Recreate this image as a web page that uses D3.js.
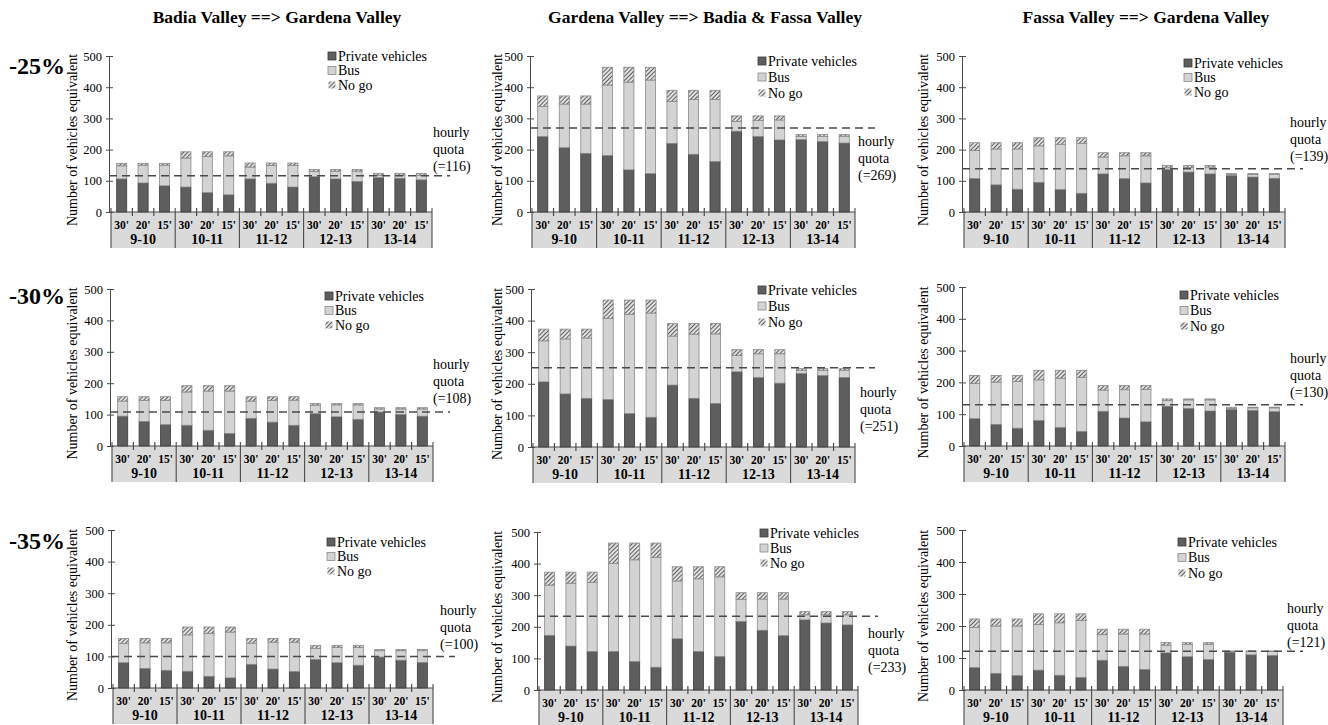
<!DOCTYPE html>
<html>
<head>
<meta charset="utf-8">
<script src="https://cdn.jsdelivr.net/npm/d3@7"></script>
</head>
<body style="margin:0;background:#fff">
<svg id="chart" width="1328" height="725" style="display:block"></svg>
<script>
// ---- Categories and labels ----
const hours = ["9-10", "10-11", "11-12", "12-13", "13-14"];
const intervals = ["30'", "20'", "15'"];
const directions = ["Badia Valley ==> Gardena Valley", "Gardena Valley ==>  Badia & Fassa Valley", "Fassa Valley ==> Gardena Valley"];
const scenarios = ["-25%", "-30%", "-35%"];
const seriesNames = ["Private vehicles", "Bus", "No go"];
const yTicks = [0, 100, 200, 300, 400, 500];

// Hourly quota per scenario, for [Badia, Gardena, Fassa]
const quota25 = [116, 269, 139];
const quota30 = [108, 251, 130];
const quota35 = [100, 233, 121];

// ---- Scenario -25% ----
const badiaPrivate25 = [106, 93, 84, 80, 62, 55, 106, 92, 80, 113, 106, 98, 110, 108, 103];
const badiaBus25     = [42, 57, 66, 93, 116, 125, 38, 57, 69, 17, 25, 33, 8, 10, 15];
const badiaNoGo25    = [8, 6, 6, 20, 15, 13, 13, 8, 8, 6, 5, 5, 6, 6, 6];

const gardenaPrivate25 = [242, 206, 188, 181, 135, 123, 220, 185, 162, 259, 242, 231, 232, 226, 221];
const gardenaBus25     = [96, 140, 158, 226, 281, 300, 134, 176, 199, 31, 51, 64, 10, 16, 22];
const gardenaNoGo25    = [34, 26, 26, 57, 48, 41, 36, 29, 29, 18, 15, 13, 6, 6, 5];

const fassaPrivate25 = [107, 87, 73, 95, 72, 60, 122, 107, 93, 136, 128, 122, 117, 112, 108];
const fassaBus25     = [90, 115, 129, 117, 145, 160, 54, 73, 87, 6, 15, 22, 3, 8, 13];
const fassaNoGo25    = [25, 20, 20, 26, 21, 18, 14, 10, 10, 7, 6, 5, 3, 3, 2];

// ---- Scenario -30% ----
const badiaPrivate30 = [95, 78, 68, 66, 50, 40, 88, 76, 66, 103, 93, 85, 108, 100, 95];
const badiaBus30     = [48, 67, 77, 106, 125, 135, 55, 69, 80, 27, 38, 46, 10, 18, 23];
const badiaNoGo30    = [14, 12, 12, 20, 17, 17, 14, 12, 11, 5, 4, 4, 4, 4, 4];

const gardenaPrivate30 = [206, 168, 154, 150, 106, 94, 196, 154, 138, 238, 220, 202, 233, 226, 220];
const gardenaBus30     = [130, 174, 191, 257, 314, 330, 155, 203, 220, 52, 75, 93, 10, 17, 23];
const gardenaNoGo30    = [37, 31, 28, 58, 45, 41, 40, 34, 33, 18, 13, 13, 5, 5, 5];

const fassaPrivate30 = [86, 68, 56, 80, 58, 46, 109, 88, 76, 125, 118, 110, 115, 112, 108];
const fassaBus30     = [111, 133, 147, 128, 155, 170, 67, 89, 102, 18, 27, 35, 3, 8, 12];
const fassaNoGo30    = [25, 21, 19, 30, 25, 22, 14, 13, 12, 5, 3, 3, 4, 2, 2];

// ---- Scenario -35% ----
const badiaPrivate35 = [80, 62, 56, 53, 37, 32, 75, 60, 52, 90, 80, 72, 98, 88, 81];
const badiaBus35     = [61, 81, 87, 115, 136, 145, 67, 85, 93, 35, 48, 56, 20, 30, 37];
const badiaNoGo35    = [16, 14, 14, 25, 20, 16, 15, 12, 12, 10, 7, 7, 4, 4, 4];

const gardenaPrivate35 = [173, 139, 122, 122, 90, 72, 162, 122, 106, 217, 189, 172, 222, 212, 206];
const gardenaBus35     = [159, 199, 218, 278, 322, 348, 183, 230, 252, 70, 99, 116, 16, 26, 32];
const gardenaNoGo35    = [41, 35, 33, 65, 53, 45, 45, 38, 32, 21, 20, 20, 10, 10, 10];

const fassaPrivate35 = [70, 52, 45, 62, 46, 39, 93, 74, 64, 116, 104, 95, 118, 110, 108];
const fassaBus35     = [125, 148, 155, 143, 164, 178, 80, 101, 111, 24, 39, 48, 2, 10, 12];
const fassaNoGo35    = [27, 22, 22, 33, 28, 21, 17, 15, 15, 8, 5, 5, 2, 2, 2];

// ---- Panel wiring: data + placement on the page ----
const panels = [
  { priv: badiaPrivate25,   bus: badiaBus25,   nogo: badiaNoGo25,   quota: quota25[0],
    L: { ax: 109, x0: 111, x1: 432, y0: 212, yTop: 56,  ylabX: 72,  legX: 328,  legY: 56,  legDy: 14.5, qX: 433,  qY: 132, dashEnd: 450 } },
  { priv: gardenaPrivate25, bus: gardenaBus25, nogo: gardenaNoGo25, quota: quota25[1],
    L: { ax: 530, x0: 532, x1: 855, y0: 212, yTop: 56,  ylabX: 497, legX: 758,  legY: 61,  legDy: 16,   qX: 858,  qY: 141, dashEnd: 875 } },
  { priv: fassaPrivate25,   bus: fassaBus25,   nogo: fassaNoGo25,   quota: quota25[2],
    L: { ax: 962, x0: 964, x1: 1285, y0: 212, yTop: 56, ylabX: 923, legX: 1184, legY: 63,  legDy: 14.5, qX: 1290, qY: 122, dashEnd: 1303 } },

  { priv: badiaPrivate30,   bus: badiaBus30,   nogo: badiaNoGo30,   quota: quota30[0],
    L: { ax: 110, x0: 112, x1: 433, y0: 446, yTop: 289, ylabX: 72,  legX: 325,  legY: 296, legDy: 14.5, qX: 433,  qY: 364, dashEnd: 450 } },
  { priv: gardenaPrivate30, bus: gardenaBus30, nogo: gardenaNoGo30, quota: quota30[1],
    L: { ax: 531, x0: 533, x1: 855, y0: 447, yTop: 289, ylabX: 497, legX: 758,  legY: 290, legDy: 16,   qX: 860,  qY: 392, dashEnd: 875 } },
  { priv: fassaPrivate30,   bus: fassaBus30,   nogo: fassaNoGo30,   quota: quota30[2],
    L: { ax: 962, x0: 964, x1: 1285, y0: 446, yTop: 287, ylabX: 923, legX: 1180, legY: 295, legDy: 15.5, qX: 1290, qY: 358, dashEnd: 1303 } },

  { priv: badiaPrivate35,   bus: badiaBus35,   nogo: badiaNoGo35,   quota: quota35[0],
    L: { ax: 111, x0: 113, x1: 433, y0: 688, yTop: 530, ylabX: 72,  legX: 327,  legY: 542, legDy: 14.5, qX: 440,  qY: 610, dashEnd: 455 } },
  { priv: gardenaPrivate35, bus: gardenaBus35, nogo: gardenaNoGo35, quota: quota35[1],
    L: { ax: 537, x0: 539, x1: 858, y0: 690, yTop: 532, ylabX: 497, legX: 760,  legY: 533, legDy: 15,   qX: 868,  qY: 633, dashEnd: 878 } },
  { priv: fassaPrivate35,   bus: fassaBus35,   nogo: fassaNoGo35,   quota: quota35[2],
    L: { ax: 962, x0: 964, x1: 1283, y0: 690, yTop: 530, ylabX: 923, legX: 1178, legY: 542, legDy: 15.5, qX: 1287, qY: 608, dashEnd: 1303 } }
];

const titleX = [277, 705, 1146];
const scenarioY = [74, 304, 549];

const FONT = "'Liberation Serif', 'Times New Roman', Tinos, serif";
const COLORS = {
  priv: "#5e5e5e", privStroke: "#3c3c3c",
  bus: "#d3d3d3", busStroke: "#8a8a8a",
  nogoStroke: "#8a8a8a",
  axis: "#4a4a4a", box: "#dadada"
};

const svg = d3.select("#chart").style("font-family", FONT);

// Hatch used for the "No go" segments
const defs = svg.append("defs");
const pat = defs.append("pattern")
  .attr("id", "hatch").attr("patternUnits", "userSpaceOnUse")
  .attr("width", 3).attr("height", 3)
  .attr("patternTransform", "rotate(45)");
pat.append("rect").attr("width", 3).attr("height", 3).attr("fill", "#e0e0e0");
pat.append("line").attr("x1", 0).attr("y1", 0).attr("x2", 0).attr("y2", 3)
  .attr("stroke", "#3e3e3e").attr("stroke-width", 1.6);

function label(sel) {
  return sel.style("font-family", FONT).attr("fill", "#000");
}

// Column titles
svg.selectAll("text.title").data(directions).join("text")
  .attr("class", "title")
  .attr("x", (d, i) => titleX[i]).attr("y", 23)
  .attr("text-anchor", "middle")
  .style("font-size", "17.5px").style("font-weight", "bold")
  .call(label)
  .text(d => d);

// Scenario labels
svg.selectAll("text.scen").data(scenarios).join("text")
  .attr("class", "scen")
  .attr("x", 9).attr("y", (d, i) => scenarioY[i])
  .style("font-size", "24px").style("font-weight", "bold")
  .call(label)
  .text(d => d);

const keys = [];
hours.forEach(h => intervals.forEach(iv => keys.push(h + "|" + iv)));

function drawPanel(p) {
  const L = p.L;
  const g = svg.append("g");

  const y = d3.scaleLinear().domain([0, 500]).range([L.y0, L.yTop]);
  const x = d3.scaleBand().domain(keys).range([L.x0, L.x1])
    .paddingInner(0.53).paddingOuter(0.265);
  const step = x.step();
  const edge = i => L.x0 + i * step;

  // Category label box under the axis
  const boxH = 36;
  g.append("rect")
    .attr("x", L.x0).attr("y", L.y0)
    .attr("width", L.x1 - L.x0).attr("height", boxH)
    .attr("fill", COLORS.box);

  // Y axis
  const yAxis = d3.axisLeft(y).tickValues(yTicks).tickSize(0).tickPadding(7);
  const ya = g.append("g").attr("transform", `translate(${L.ax},0)`).call(yAxis);
  ya.attr("font-family", null);
  ya.select(".domain").attr("stroke", COLORS.axis);
  ya.selectAll("text").style("font-size", "12.5px").call(label);
  ya.selectAll(".tick").append("line")
    .attr("x1", -3).attr("x2", 4).attr("stroke", COLORS.axis);

  // Y title
  g.append("text")
    .attr("transform", `translate(${L.ylabX},${(L.y0 + L.yTop) / 2 + 6}) rotate(-90)`)
    .attr("text-anchor", "middle").attr("dy", "0.35em")
    .style("font-size", "14px")
    .call(label)
    .text("Number of vehicles equivalent");

  // Stacked bars
  const rows = keys.map((k, i) => ({ key: k, priv: p.priv[i], bus: p.bus[i], nogo: p.nogo[i] }));
  const stack = d3.stack().keys(["priv", "bus", "nogo"])(rows);
  const fills = { priv: COLORS.priv, bus: COLORS.bus, nogo: "url(#hatch)" };
  const strokes = { priv: COLORS.privStroke, bus: COLORS.busStroke, nogo: COLORS.nogoStroke };
  stack.forEach(layer => {
    g.append("g").selectAll("rect").data(layer).join("rect")
      .attr("x", d => x(d.data.key))
      .attr("y", d => y(d[1]))
      .attr("width", x.bandwidth())
      .attr("height", d => Math.max(0, y(d[0]) - y(d[1])))
      .attr("fill", fills[layer.key])
      .attr("stroke", strokes[layer.key]).attr("stroke-width", 0.8);
  });

  // X axis line, category ticks and group separators
  g.append("line").attr("x1", L.ax).attr("x2", L.x1)
    .attr("y1", L.y0).attr("y2", L.y0).attr("stroke", COLORS.axis).attr("stroke-width", 1.2);
  d3.range(keys.length + 1).forEach(i => {
    const isGroup = i % intervals.length === 0;
    g.append("line")
      .attr("x1", edge(i)).attr("x2", edge(i))
      .attr("y1", L.y0 - 4).attr("y2", isGroup ? L.y0 + boxH : L.y0 + 4)
      .attr("stroke", COLORS.axis).attr("stroke-width", isGroup ? 1.1 : 1.2);
  });

  // Interval labels
  g.append("g").selectAll("text").data(keys).join("text")
    .attr("x", d => x(d) + x.bandwidth() / 2).attr("y", L.y0 + 17)
    .attr("text-anchor", "middle")
    .style("font-size", "11.5px").style("font-weight", "bold")
    .call(label)
    .text(d => d.split("|")[1]);

  // Hour labels
  g.append("g").selectAll("text").data(hours).join("text")
    .attr("x", (d, i) => edge(i * 3) + step * 1.5).attr("y", L.y0 + 31.5)
    .attr("text-anchor", "middle")
    .style("font-size", "14px").style("font-weight", "bold")
    .call(label)
    .text(d => d);

  // Hourly quota reference line
  g.append("line")
    .attr("x1", L.ax).attr("x2", L.dashEnd)
    .attr("y1", y(p.quota)).attr("y2", y(p.quota))
    .attr("stroke", "#4a4a4a").attr("stroke-width", 1.5)
    .attr("stroke-dasharray", "8,5");

  const qLines = ["hourly", "quota", `(=${p.quota})`];
  g.append("g").selectAll("text").data(qLines).join("text")
    .attr("x", L.qX).attr("y", (d, i) => L.qY + i * 17)
    .attr("dy", "0.35em")
    .style("font-size", "14px")
    .call(label)
    .text(d => d);

  // Legend
  const legFill = [COLORS.priv, COLORS.bus, "url(#hatch)"];
  const legStroke = [COLORS.privStroke, COLORS.busStroke, "none"];
  const lg = g.append("g");
  seriesNames.forEach((name, i) => {
    const cy = L.legY + i * L.legDy;
    const s = i === 2 ? 7 : 8;
    lg.append("rect").attr("x", L.legX + (8 - s) / 2).attr("y", cy - s / 2)
      .attr("width", s).attr("height", s)
      .attr("fill", legFill[i]).attr("stroke", legStroke[i]).attr("stroke-width", 0.8);
    lg.append("text").attr("x", L.legX + 10).attr("y", cy).attr("dy", "0.35em")
      .style("font-size", "14px")
      .call(label)
      .text(name);
  });
}

panels.forEach(drawPanel);
</script>
</body>
</html>
